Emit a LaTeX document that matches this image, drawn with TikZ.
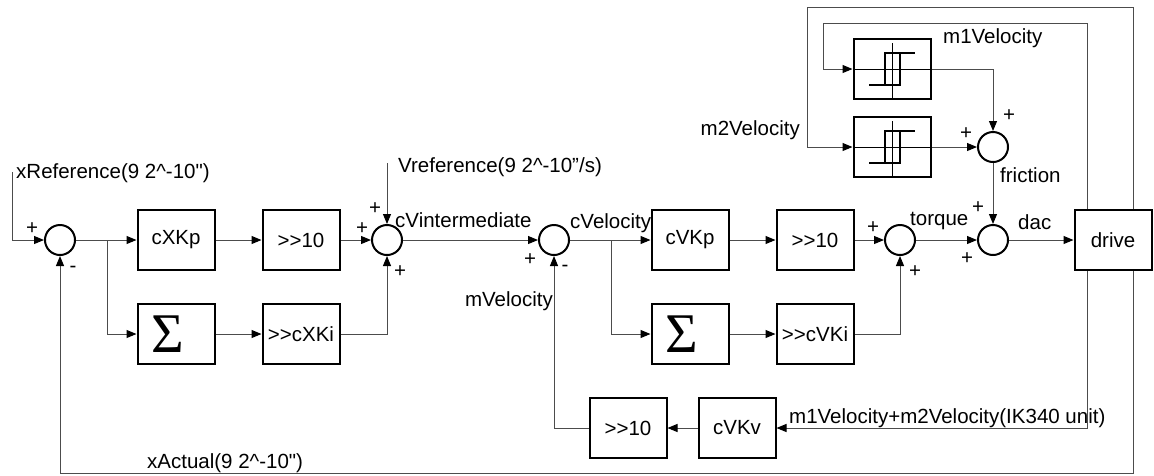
\documentclass[tikz,border=0pt]{standalone}
\usepackage{fontspec}
\setmainfont{Liberation Sans}[Ligatures=TeXOff]
\newfontfamily\sigfont{Liberation Serif}
\usetikzlibrary{arrows.meta}
\begin{document}
\begin{tikzpicture}[x=1pt,y=-1pt,
        every node/.style={font=\fontsize{20.5}{24}\selectfont},
        blk/.style={draw,line width=2pt,minimum width=77pt,minimum height=60pt,inner sep=0pt},
        sumc/.style={draw,circle,line width=2pt,minimum size=30pt,inner sep=0pt},
        lbl/.style={inner sep=0pt},
        wire/.style={line width=1pt,draw=black!70},
        arr/.style={wire,-{Triangle[length=10pt,width=8pt,color=black]}}]
                \useasboundingbox (0,0) rectangle (1154,475);

                % 位置ループ
                \node[sumc] (s1) at (60,240) {};
                \node[blk] (kxp) at (176,240) {cXKp};
                \node[blk] (shx) at (301,240) {>>10};
                \node[blk] (sgx) at (176,334) {\sigfont\fontsize{56}{60}\selectfont Σ\kern16pt};
                \node[blk] (kxi) at (301,334) {>>cXKi};
                \node[sumc] (s2) at (387,240) {};

                % 速度ループ
                \node[sumc] (s3) at (554,240) {};
                \node[blk] (kvp) at (690,240) {cVKp};
                \node[blk] (shv) at (815,240) {>>10};
                \node[blk] (sgv) at (690,334) {\sigfont\fontsize{56}{60}\selectfont Σ\kern16pt};
                \node[blk] (kvi) at (815,334) {>>cVKi};
                \node[sumc] (s4) at (900,240) {};
                \node[sumc] (s5) at (993,240) {};
                \node[blk] (drv) at (1113,240) {drive};
                \node[blk] (shm) at (628,428) {>>10};
                \node[blk] (kvv) at (737,428) {cVKv};

                % 摩擦補償
                \node[blk] (hy1) at (892,69) {};
                \node[blk] (hy2) at (892,147) {};
                \node[sumc] (s6) at (993,147) {};
                \foreach \h in {hy1,hy2} {
                    \begin{scope}[shift={(\h)}]
                        \draw[line width=1pt] (-38,0) -- (38,0) (0,-26) -- (0,30);
                        \draw[line width=2pt] (-23,16) -| (8,-16) -- (23,-16) (-7,16) -- (-7,-16) -- (8,-16);
                    \end{scope}
                }

                % 信号線
                \coordinate (xin) at (12,172);
                \coordinate (vin) at (387,163);
                \coordinate (b1) at (107,240);
                \coordinate (b2) at (611,240);
                \draw[arr] (xin) |- (s1);
                \draw[arr] (s1) -- (kxp);
                \draw[arr] (b1) |- (sgx);
                \draw[arr] (kxp) -- (shx);
                \draw[arr] (shx) -- (s2);
                \draw[arr] (sgx) -- (kxi);
                \draw[arr] (kxi) -| (s2);
                \draw[arr] (vin) -- (s2);
                \draw[arr] (s2) -- (s3);
                \draw[arr] (s3) -- (kvp);
                \draw[arr] (b2) |- (sgv);
                \draw[arr] (kvp) -- (shv);
                \draw[arr] (shv) -- (s4);
                \draw[arr] (sgv) -- (kvi);
                \draw[arr] (kvi) -| (s4);
                \draw[arr] (s4) -- (s5);
                \draw[arr] (s5) -- (drv);
                \draw[arr] (s6) -- (s5);
                \draw[arr] (hy1) -| (s6);
                \draw[arr] (hy2) -- (s6);

                % フィードバック
                \draw[arr] ([xshift=-26pt]drv.north) |- (823,23) |- (hy1);
                \draw[arr] ([xshift=20pt]drv.north) |- (807,7) |- (hy2);
                \draw[arr] ([xshift=-26pt]drv.south) |- (kvv);
                \draw[arr] ([xshift=20pt]drv.south) |- (60,473) -- (s1);
                \draw[arr] (kvv) -- (shm);
                \draw[arr] (shm) -| (s3);

                % ラベル
                \node[lbl,anchor=west] (lxr) at (16,173) {xReference(9 2\textasciicircum-10")};
                \node[lbl,anchor=west] (lvr) at (398,167) {Vreference(9 2\textasciicircum-10”/s)};
                \node[lbl,anchor=west] (lvi) at (395,220) {cVintermediate};
                \node[lbl,anchor=west] (lcv) at (570,223) {cVelocity};
                \node[lbl,anchor=east] (lmv) at (553,301) {mVelocity};
                \node[lbl,anchor=west] (lxa) at (147,463) {xActual(9 2\textasciicircum-10")};
                \node[lbl,anchor=west] (lms) at (789,418) {m1Velocity+m2Velocity(IK340 unit)};
                \node[lbl,anchor=east] (lm2) at (800,130) {m2Velocity};
                \node[lbl,anchor=west] (lm1) at (943,38) {m1Velocity};
                \node[lbl,anchor=west] (lfr) at (1000,175) {friction};
                \node[lbl,anchor=west] (ltq) at (910,221) {torque};
                \node[lbl,anchor=west] (ldc) at (1018,222) {dac};

                % 符号
                \foreach \x/\y/\s [count=\i] in {32/229/+,73/269/-,375/209/+,362/229/+,400/272/+,
                        530/260/+,565/268/-,873/228/+,915/272/+,978/208/+,967/259/+,1009/116/+,966/134/+} {
                    \node[lbl] (sg\i) at (\x,\y) {\s};
                }
            \end{tikzpicture}
\end{document}
